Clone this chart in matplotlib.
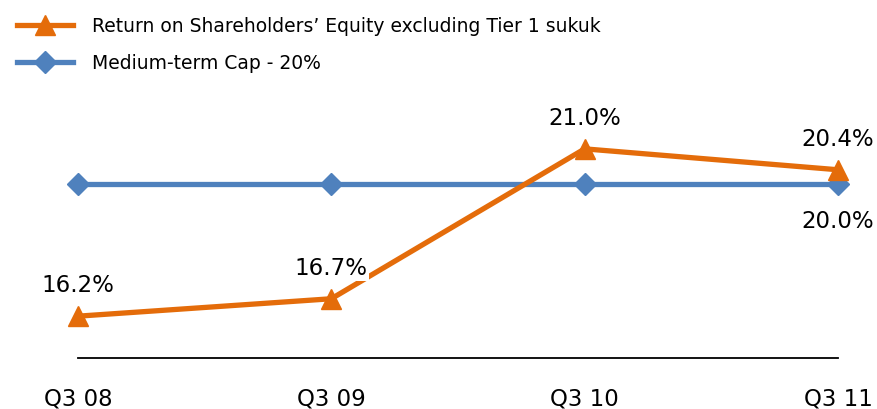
import matplotlib.pyplot as plt

# Chart data
quarters = ['Q3 08', 'Q3 09', 'Q3 10', 'Q3 11']
roe = [16.2, 16.7, 21.0, 20.4]
cap = [20.0, 20.0, 20.0, 20.0]

orange = '#E46C0A'
blue = '#4F81BD'

plt.rcParams['font.family'] = ['DejaVu Sans']

fig = plt.figure(figsize=(8.77, 4.09), dpi=100)
ax = fig.add_axes([78 / 877, 51 / 409, 760 / 877, 244 / 409])

x = list(range(len(quarters)))
ax.plot(x, cap, color=blue, linewidth=3.8, marker='D', markersize=11,
        clip_on=False, zorder=3, label='Medium-term Cap - 20%')
ax.plot(x, roe, color=orange, linewidth=3.8, marker='^', markersize=15,
        clip_on=False, zorder=4, label="Return on Shareholders\u2019 Equity excluding Tier 1 sukuk")

# data labels
for xi, v in zip(x, roe):
    ax.annotate(f'{v:.1f}%', (xi, v), xytext=(0, 22), textcoords='offset points',
                ha='center', va='center', fontsize=16.5,
                bbox=dict(facecolor='white', edgecolor='none', pad=1), zorder=5)
ax.annotate(f'{cap[-1]:.1f}%', (x[-1], cap[-1]), xytext=(0, -27), textcoords='offset points',
            ha='center', va='center', fontsize=16.5)

ax.set_xlim(0, 3)
ax.set_ylim(15, 22)
ax.set_xticks(x)
ax.set_xticklabels(quarters, fontsize=16.5)
ax.tick_params(axis='x', length=0, pad=21)
ax.set_yticks([])
for s in ['top', 'right', 'left']:
    ax.spines[s].set_visible(False)
ax.spines['bottom'].set_linewidth(1.3)

h, l = ax.get_legend_handles_labels()
fig.legend(h[::-1], l[::-1], loc='upper left', bbox_to_anchor=(0.0, 1.0),
           frameon=False, fontsize=13.5, handlelength=3.0, handletextpad=1.0,
           labelspacing=0.95, borderaxespad=0.5)

fig.savefig('out.png', dpi=100)
